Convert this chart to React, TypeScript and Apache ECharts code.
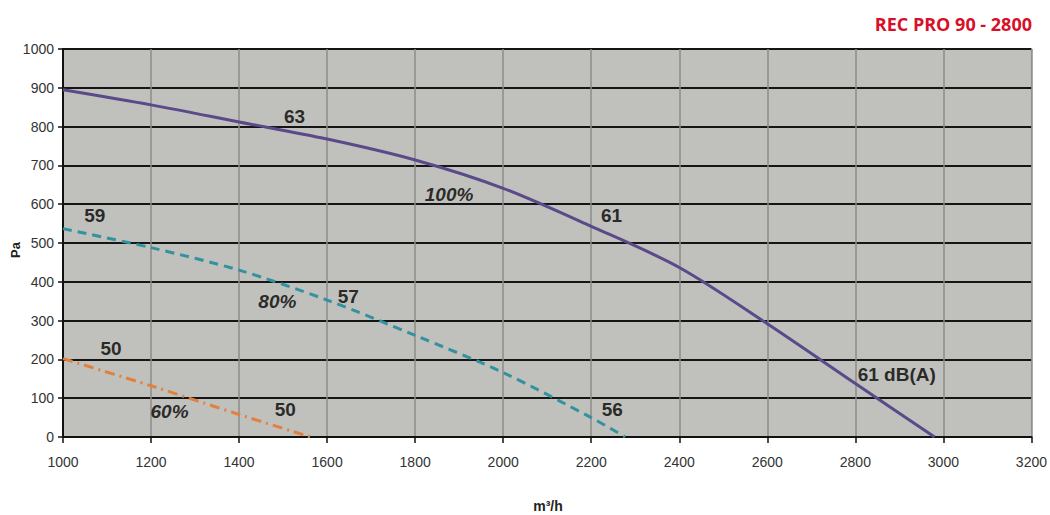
import React, { useEffect, useRef } from "react";
import * as echarts from "echarts";

const title = "REC PRO 90 - 2800";
const xTicks = { min: 1000, max: 3200, interval: 200 };
const yTicks = { min: 0, max: 1000, interval: 100 };

const curve100: [number, number][] = [
  [1000, 895], [1200, 856], [1400, 812], [1600, 768], [1800, 714], [2000, 641],
  [2200, 543], [2400, 437], [2600, 292], [2800, 138], [2980, 0],
];
const curve80: [number, number][] = [
  [1000, 537], [1200, 488], [1400, 430], [1600, 353], [1800, 262], [2000, 166],
  [2200, 50], [2277, 0],
];
const curve60: [number, number][] = [
  [1000, 202], [1200, 132], [1400, 58], [1562, 0],
];

const annotations: { text: string; x: number; y: number; italic: boolean }[] = [
  { text: "63", x: 1526, y: 825, italic: false },
  { text: "100%", x: 1877, y: 626, italic: true },
  { text: "61", x: 2246, y: 570, italic: false },
  { text: "59", x: 1072, y: 570, italic: false },
  { text: "80%", x: 1487, y: 350, italic: true },
  { text: "57", x: 1648, y: 363, italic: false },
  { text: "50", x: 1109, y: 227, italic: false },
  { text: "60%", x: 1242, y: 67, italic: true },
  { text: "50", x: 1505, y: 70, italic: false },
  { text: "56", x: 2248, y: 70, italic: false },
  { text: "61 dB(A)", x: 2894, y: 162, italic: false },
];

const yAxisName = "Pa";
const xAxisName = "m³/h";

const narrow = "'Liberation Sans Narrow', 'Liberation Sans', sans-serif";

export default function App() {
  const ref = useRef<HTMLDivElement>(null);
  useEffect(() => {
    if (!ref.current) return;
    const chart = echarts.init(ref.current, null, { renderer: "svg" });
    chart.setOption({
      animation: false,
      backgroundColor: "#ffffff",
      grid: { left: 63, right: 16, top: 49, bottom: 78, show: true, backgroundColor: "#c0c0bc", borderColor: "#9a9a98", borderWidth: 1 },
      xAxis: {
        type: "value",
        min: xTicks.min,
        max: xTicks.max,
        interval: xTicks.interval,
        axisLine: { show: true, onZero: false, lineStyle: { color: "#111", width: 2 } },
        axisTick: { show: true, length: 6, lineStyle: { color: "#111", width: 1.5 } },
        axisLabel: { margin: 18, color: "#333", fontSize: 14, fontFamily: narrow, formatter: (v: number) => String(v) },
        splitLine: { show: true, lineStyle: { color: "#8c8c8a", width: 1.5 } },
      },
      yAxis: {
        type: "value",
        min: yTicks.min,
        max: yTicks.max,
        interval: yTicks.interval,
        axisLine: { show: true, lineStyle: { color: "#111", width: 2 } },
        axisTick: { show: true, length: 5, lineStyle: { color: "#111", width: 1.5 } },
        axisLabel: { margin: 9, color: "#333", fontSize: 14, fontFamily: narrow, formatter: (v: number) => String(v) },
        splitLine: { show: true, lineStyle: { color: "#151515", width: 2.2 } },
      },
      graphic: [
        {
          type: "text",
          right: 18,
          top: 15,
          style: { text: title, fill: "#d7102a", font: "bold 18px 'Open Sans', 'Liberation Sans', sans-serif" },
        },
        {
          type: "text",
          x: 15,
          y: 250,
          rotation: Math.PI / 2,
          style: { text: yAxisName, fill: "#222", font: "bold 13px 'Liberation Sans', sans-serif", align: "center", verticalAlign: "middle" },
        },
        {
          type: "text",
          x: 548,
          y: 506,
          style: { text: xAxisName, fill: "#222", font: "bold 14px " + narrow, align: "center", verticalAlign: "middle" },
        },
      ],
      series: [
        {
          type: "line",
          data: curve100,
          smooth: 0.3,
          showSymbol: false,
          lineStyle: { color: "#5a4a8a", width: 3 },
        },
        {
          type: "line",
          data: curve80,
          smooth: 0.3,
          showSymbol: false,
          lineStyle: { color: "#33929f", width: 3, type: [9, 6] },
        },
        {
          type: "line",
          data: curve60,
          smooth: 0.3,
          showSymbol: false,
          lineStyle: { color: "#e0813f", width: 3, type: [10, 5, 2, 5] },
        },
        {
          type: "scatter",
          symbolSize: 1,
          itemStyle: { color: "rgba(0,0,0,0)" },
          silent: true,
          z: 10,
          data: annotations.map((a) => ({
            value: [a.x, a.y],
            label: {
              show: true,
              position: "inside",
              formatter: a.text,
              color: "#000",
              fontSize: 19,
              fontWeight: "bold",
              fontStyle: a.italic ? "italic" : "normal",
              fontFamily: "'Liberation Sans', Arial, sans-serif",
            },
          })),
        },
      ],
    });
    return () => chart.dispose();
  }, []);
  return <div ref={ref} style={{ position: "fixed", left: 0, top: 0, width: 1050, height: 515 }} />;
}
